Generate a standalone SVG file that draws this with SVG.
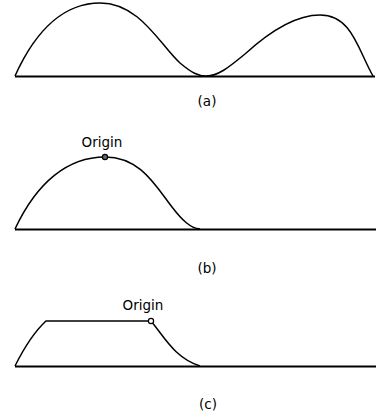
<svg xmlns="http://www.w3.org/2000/svg" width="376" height="417" viewBox="0 0 376 417">
<style>
.c{fill:none;stroke:#000;stroke-width:1.5}
.b{fill:none;stroke:#000;stroke-width:1.8}
.t{font-family:"DejaVu Sans","Liberation Sans",sans-serif;font-size:13.5px;fill:#000;text-anchor:middle}
.o{fill:#666;stroke:#000;stroke-width:1.2}
</style>
<rect width="376" height="417" fill="#fff"/>
<g id="a">
<line class="b" x1="15" y1="76.5" x2="375" y2="76.5"/>
<path class="c" d="M15,76 C38,25 68,3 100,3 C140,3 160,45 180,63 C192,73 198,76 206,76 C218,76 228,68 245,54 C268,33 295,15 320,15 C352,15 358,50 373,76"/>
<text class="t" x="207" y="106">(a)</text>
</g>
<g id="b">
<line class="b" x1="15" y1="229.5" x2="376" y2="229.5"/>
<path class="c" d="M15,229 C37,182 68,157 105,157 C140,157 155,185 172,207 C182,220 190,228 200,229"/>
<circle class="o" cx="105" cy="157" r="2.6"/>
<text class="t" x="102" y="147">Origin</text>
<text class="t" x="207" y="273">(b)</text>
</g>
<g id="c">
<line class="b" x1="15" y1="366.5" x2="376" y2="366.5"/>
<path class="c" d="M15,366 C24,348 33,333 46,321 L151,321 C165,338 175,358 200,366"/>
<circle cx="151" cy="321" r="2.6" fill="#fff" stroke="#000" stroke-width="1.2"/>
<text class="t" x="143" y="310">Origin</text>
<text class="t" x="208" y="409">(c)</text>
</g>
</svg>
